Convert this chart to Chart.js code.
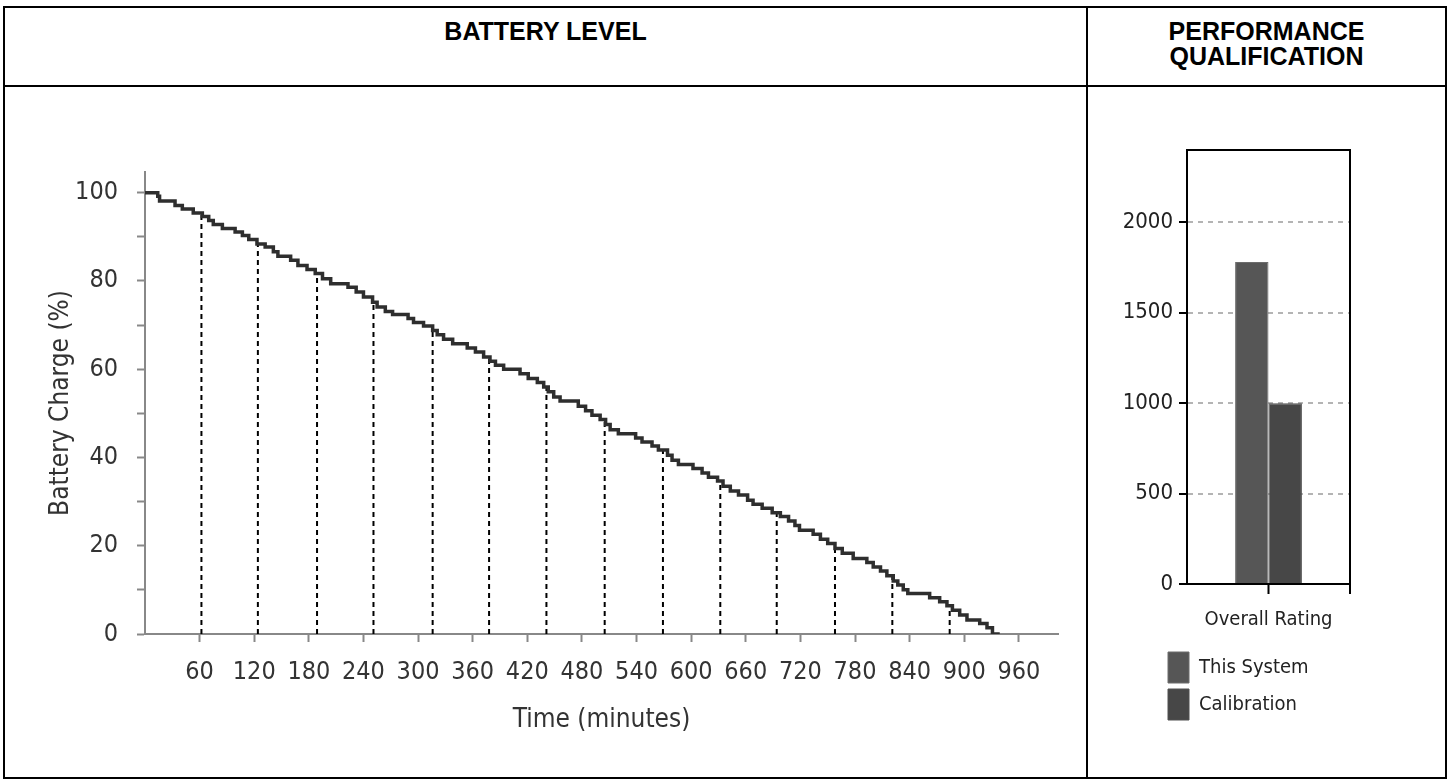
<!DOCTYPE html>
<html>
<head>
<meta charset="utf-8">
<title>Battery Level / Performance Qualification</title>
<script src="https://cdn.jsdelivr.net/npm/chart.js@4.4.0/dist/chart.umd.min.js"></script>
<style>
  html, body { margin: 0; padding: 0; background: #fff; }
  body { width: 1452px; height: 782px; position: relative; overflow: hidden; }
  .frame { position: absolute; left: 3px; top: 6px; width: 1444px; height: 773px; border: 2px solid #000; box-sizing: border-box; }
  .vline { position: absolute; left: 1086px; top: 6px; width: 2px; height: 773px; background: #000; }
  .hline { position: absolute; left: 3px; top: 85px; width: 1444px; height: 2px; background: #000; }
  .head { position: absolute; top: 19px; font: bold 25px "Liberation Sans", Arial, sans-serif; line-height: 25px; text-align: center; color: #000; }
  canvas { position: absolute; }
</style>
</head>
<body>
<div class="frame"></div>
<div class="vline"></div>
<div class="hline"></div>
<div class="head" style="left:5px; width:1081px;">BATTERY LEVEL</div>
<div class="head" style="left:1088px; width:357px;">PERFORMANCE<br>QUALIFICATION</div>

<canvas id="batteryChart" width="1080" height="689" style="left:5px; top:88px; width:1080px; height:689px;"></canvas>
<canvas id="ratingChart" width="356" height="689" style="left:1089px; top:88px; width:356px; height:689px;"></canvas>

<script>
// ---------- battery log (minutes, % charge at the start of each step) ----------
const batteryTimes = [
  0, 14, 16, 33, 41, 53, 63, 70, 75, 85,
  99, 107, 114, 123, 132, 141, 146, 160, 168, 178,
  187, 195, 204, 223, 232, 240, 250, 255, 264, 272,
  289, 295, 306, 316, 321, 328, 338, 354, 363, 372,
  379, 385, 394, 412, 421, 431, 438, 443, 449, 456,
  476, 484, 491, 500, 506, 511, 520, 539, 546, 557,
  564, 574, 579, 586, 602, 612, 619, 629, 635, 643,
  652, 662, 668, 678, 689, 698, 707, 714, 719, 734,
  742, 750, 758, 766, 778, 793, 800, 808, 815, 822,
  827, 833, 838, 862, 873, 881, 887, 895, 903, 917,
  925, 931, 939
];
const batteryLevels = [
  100, 99.2, 98.1, 97.1, 96.3, 95.4, 94.6, 93.7, 92.8, 91.9,
  91.1, 90.3, 89.4, 88.4, 87.7, 86.6, 85.6, 84.7, 83.5, 82.6,
  81.7, 80.5, 79.4, 78.6, 77.5, 76.4, 75.2, 74.1, 73.1, 72.4,
  71.5, 70.6, 69.8, 68.8, 67.8, 66.8, 65.8, 64.8, 63.9, 62.8,
  61.8, 60.9, 60.0, 59.0, 57.9, 57.0, 56.0, 54.9, 53.7, 52.8,
  51.6, 50.6, 49.6, 48.6, 47.5, 46.3, 45.4, 44.4, 43.5, 42.6,
  41.7, 40.5, 39.4, 38.4, 37.5, 36.5, 35.5, 34.7, 33.5, 32.4,
  31.5, 30.3, 29.4, 28.5, 27.5, 26.6, 25.6, 24.6, 23.5, 22.6,
  21.5, 20.5, 19.4, 18.3, 17.1, 16.2, 15.2, 14.3, 13.2, 12.0,
  11.1, 10.0, 9.2, 8.2, 7.3, 6.4, 5.4, 4.3, 3.2, 2.4,
  1.4, 0, 0
];
// dashed drop lines (minutes)
const markerTimes = [62, 124, 189, 251, 316, 378, 441, 505, 569, 632, 694, 758, 821, 884];
const timeTicks = [60, 120, 180, 240, 300, 360, 420, 480, 540, 600, 660, 720, 780, 840, 900, 960];
const chargeTicks = [0, 10, 20, 30, 40, 50, 60, 70, 80, 90, 100];

// ---------- performance rating ----------
const ratingLabels = ["Overall Rating"];
const thisSystem = [1780];
const calibration = [1000];
const ratingTicks = [0, 500, 1000, 1500, 2000];

const FONT = "'Liberation Sans Narrow', 'DejaVu Sans Condensed', sans-serif";

function levelAt(t) {
  let v = batteryLevels[0];
  for (let i = 0; i < batteryTimes.length; i++) {
    if (batteryTimes[i] <= t) v = batteryLevels[i];
  }
  return v;
}

// ---------- stepped battery line ----------
function renderBatteryChart(canvasId) {
  const ctx = document.getElementById(canvasId);
  const stepPoints = batteryTimes.map((t, i) => ({ x: t, y: batteryLevels[i] }));
  const dropPoints = [];
  markerTimes.forEach(t => {
    dropPoints.push({ x: t, y: 0 }, { x: t, y: levelAt(t) }, { x: t, y: null });
  });

  new Chart(ctx, {
    type: "line",
    data: {
      datasets: [{
        data: stepPoints,
        stepped: true,
        borderColor: "#2e2e2e",
        borderWidth: 3.5,
        pointRadius: 0,
        fill: false
      }, {
        data: dropPoints,
        borderColor: "#000000",
        borderWidth: 2,
        borderDash: [5, 4],
        pointRadius: 0,
        spanGaps: false,
        fill: false
      }]
    },
    options: {
      responsive: false,
      animation: false,
      layout: { padding: { left: 0, top: 84, right: 27, bottom: 0 } },
      plugins: { legend: { display: false }, tooltip: { enabled: false } },
      scales: {
        x: {
          type: "linear",
          min: 0,
          max: 1003,
          afterBuildTicks: s => { s.ticks = timeTicks.map(v => ({ value: v })); },
          afterFit: s => { s.height = 143; },
          grid: { drawOnChartArea: false, tickLength: 8, tickColor: "#888", tickWidth: 2 },
          border: { color: "#888", width: 2 },
          ticks: { font: { family: FONT, size: 25, lineHeight: 1.2 }, color: "#333", padding: 15, maxRotation: 0, autoSkip: false },
          title: { display: true, text: "Time (minutes)", color: "#333",
                   font: { family: FONT, size: 26, lineHeight: 1.2 }, padding: { bottom: 41 } }
        },
        y: {
          min: 0,
          max: 104.7,
          afterBuildTicks: s => { s.ticks = chargeTicks.map(v => ({ value: v })); },
          afterFit: s => { s.width = 140; },
          grid: { drawOnChartArea: false, tickLength: 8, tickColor: "#888", tickWidth: 2 },
          border: { color: "#888", width: 2 },
          ticks: { font: { family: FONT, size: 25 }, color: "#333", padding: 19,
                   callback: v => (v % 20 === 0 ? v : "") },
          title: { display: true, text: "Battery Charge (%)", color: "#333",
                   font: { family: FONT, size: 26, lineHeight: 1.2 }, padding: { top: 41 } }
        }
      }
    }
  });
}

// ---------- box round the bar plot, legend moved under the axis labels ----------
const plotBox = {
  id: "plotBox",
  afterLayout(chart) {
    const lg = chart.legend;
    if (lg) { lg.left -= 25; lg.right -= 25; }
  },
  afterDatasetsDraw(chart) {
    const a = chart.chartArea;
    const c = chart.ctx;
    c.save();
    c.strokeStyle = "#000";
    c.lineWidth = 2;
    c.strokeRect(a.left, a.top, a.right - a.left, a.bottom - a.top);
    c.beginPath();
    c.moveTo(a.right, a.bottom);
    c.lineTo(a.right, a.bottom + 10);
    c.stroke();
    c.restore();
  }
};

// ---------- performance bars ----------
function renderRatingChart(canvasId) {
  const ctx = document.getElementById(canvasId);

  new Chart(ctx, {
    type: "bar",
    data: {
      labels: ratingLabels,
      datasets: [{
        label: "This System",
        data: thisSystem,
        backgroundColor: "#565656",
        borderColor: "#6c6c6c",
        borderWidth: 1,
        categoryPercentage: 0.41,
        barPercentage: 1
      }, {
        label: "Calibration",
        data: calibration,
        backgroundColor: "#474747",
        borderColor: "#505050",
        borderWidth: 1,
        categoryPercentage: 0.41,
        barPercentage: 1
      }]
    },
    options: {
      responsive: false,
      animation: false,
      layout: { padding: { left: 0, top: 62, right: 95, bottom: 47 } },
      plugins: {
        tooltip: { enabled: false },
        legend: {
          position: "bottom",
          align: "start",
          fullSize: false,
          labels: { boxWidth: 21, boxHeight: 31, padding: 6, color: "#222", font: { family: FONT, size: 20 } }
        }
      },
      scales: {
        x: {
          afterFit: s => { s.height = 62; },
          grid: { offset: false, drawOnChartArea: false, tickLength: 10, tickColor: "#000", tickWidth: 2 },
          border: { color: "#000", width: 2 },
          ticks: { font: { family: FONT, size: 20 }, color: "#222", padding: 14 }
        },
        y: {
          min: 0,
          max: 2400,
          afterBuildTicks: s => { s.ticks = ratingTicks.map(v => ({ value: v })); },
          afterFit: s => { s.width = 98; },
          grid: { color: "#b4b4b4", lineWidth: 2, tickColor: "#000", tickWidth: 2, tickLength: 8, tickBorderDash: [] },
          border: { color: "#000", width: 2, dash: [5, 5] },
          ticks: { font: { family: FONT, size: 22 }, color: "#222", padding: 6, callback: v => String(v) }
        }
      }
    },
    plugins: [plotBox]
  });
}

renderBatteryChart("batteryChart");
renderRatingChart("ratingChart");
</script>
</body>
</html>
